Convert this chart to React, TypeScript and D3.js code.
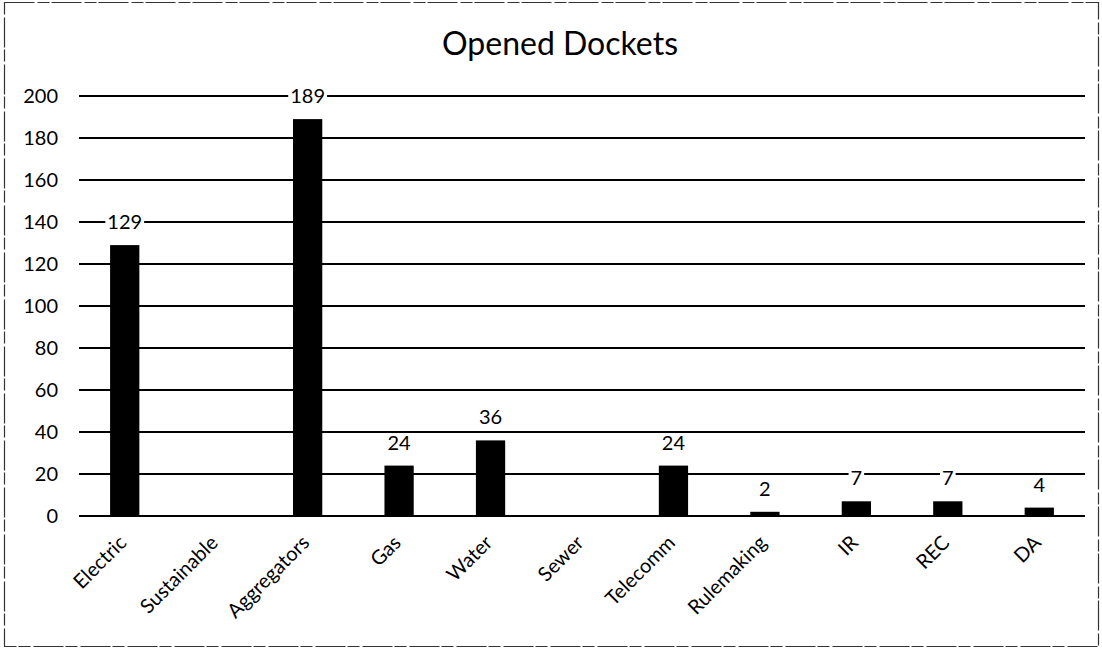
import React from "react";
import * as d3 from "d3";

const categories = ["Electric", "Sustainable", "Aggregators", "Gas", "Water", "Sewer", "Telecomm", "Rulemaking", "IR", "REC", "DA"];
const values = [129, 0, 189, 24, 36, 0, 24, 2, 7, 7, 4];
const yTicks = [0, 20, 40, 60, 80, 100, 120, 140, 160, 180, 200];
const title = "Opened Dockets";

export default function App() {
  const W = 1102, H = 650;
  const left = 79, right = 1085, top = 96, bottom = 516;
  const x = d3.scaleBand<string>().domain(categories).range([left, right]).paddingInner(0.68).paddingOuter(0.34);
  const y = d3.scaleLinear().domain([0, 200]).range([bottom, top]);
  const font = "Lato, 'Open Sans', sans-serif";
  return (
    <svg width={W} height={H} style={{ position: "absolute", left: 0, top: 0, background: "#fff" }} fontFamily={font}>
      <rect x={4.5} y={2.5} width={1094} height={644} fill="none" stroke="#333" strokeWidth={1.2} strokeDasharray="30 3 12 2" />
      <text x={560} y={55} textAnchor="middle" fontSize={32} fill="#000">{title}</text>
      {yTicks.map((t) => (
        <g key={t}>
          <line x1={left} x2={right} y1={y(t)} y2={y(t)} stroke="#000" strokeWidth={2} />
          <text x={58} y={y(t)} dy="0.36em" textAnchor="end" fontSize={20} fill="#000">{t}</text>
        </g>
      ))}
      {categories.map((c, i) => {
        const v = values[i];
        const bx = x(c)!;
        const bw = x.bandwidth();
        const cx = bx + bw / 2;
        const lw = String(v).length * 11.6 + 4;
        return (
          <g key={c}>
            {v > 0 && (
              <rect x={bx} y={y(v)} width={bw} height={Math.max(2, y(0) - y(v))} fill="#000" />
            )}
            {v > 0 && (
              <rect x={cx - lw / 2} y={y(v) - 32} width={lw} height={20} fill="#fff" />
            )}
            {v > 0 && (
              <text x={cx} y={y(v) - 16} textAnchor="middle" fontSize={20} fill="#000">{v}</text>
            )}
            <text transform={`translate(${cx + 3},${544}) rotate(-45)`} textAnchor="end" fontSize={20} fill="#000">{c}</text>
          </g>
        );
      })}
    </svg>
  );
}
